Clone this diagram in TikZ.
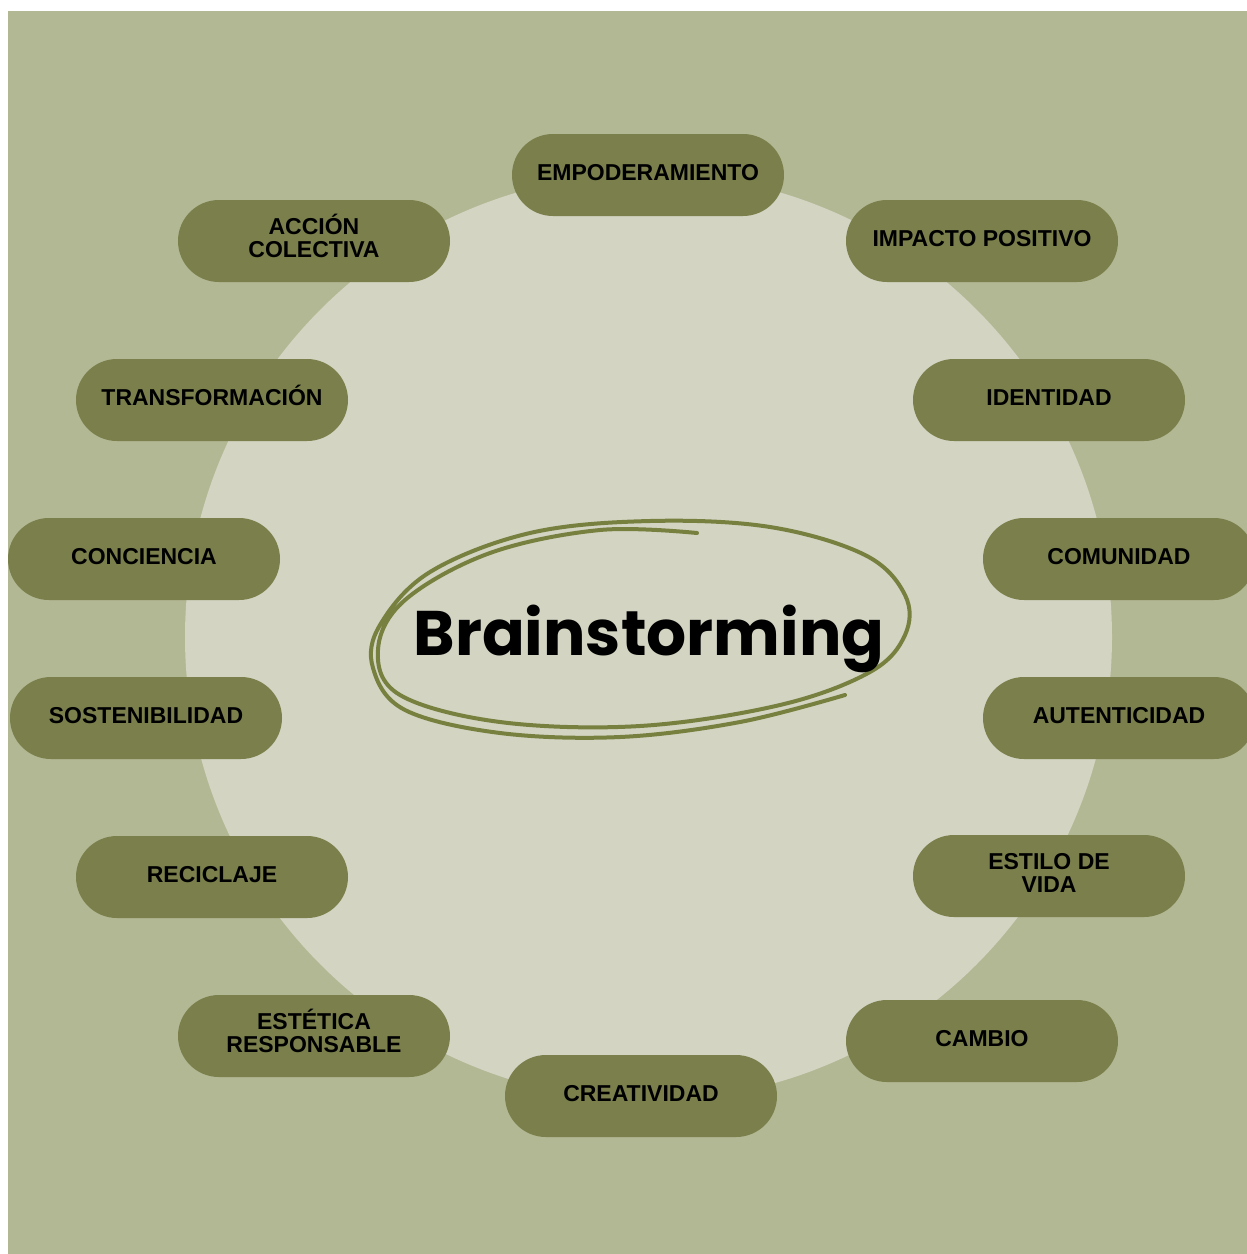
\documentclass[tikz,border=0pt]{standalone}
\usepackage{fontspec}
\setmainfont{Liberation Sans}
\newfontfamily\brainfont{Poppins}
\definecolor{bgg}{HTML}{B3B894}
\definecolor{circ}{HTML}{D3D4C2}
\definecolor{pill}{HTML}{7A7F4B}
\definecolor{scrib}{HTML}{77803F}
\begin{document}
\begin{tikzpicture}[x=1pt,y=-1pt,
  pillbox/.style={fill=pill, rounded corners=41pt, minimum width=272pt, minimum height=82pt,
    inner sep=0pt, align=center, text=black,
    font=\bfseries\fontsize{23}{23}\selectfont},
  pillone/.style={pillbox, text height=16pt, text depth=6pt},
  pilltwo/.style={pillbox, text height=39pt, text depth=7pt}]
\useasboundingbox (0,0) rectangle (1247,1254);
\fill[white] (0,0) rectangle (1247,1254);
\fill[bgg] (8,11) rectangle (1247,1254);
\fill[circ] (648.5,637) circle[radius=463.5];

\node[pillone] (emp) at (648,175) {EMPODERAMIENTO};
\node[pilltwo] (acc) at (314,241) {ACCIÓN\\COLECTIVA};
\node[pillone] (imp) at (982,241) {IMPACTO POSITIVO};
\node[pillone] (tra) at (212,400) {TRANSFORMACIÓN};
\node[pillone] (ide) at (1049,400) {IDENTIDAD};
\node[pillone] (con) at (144,559) {CONCIENCIA};
\node[pillone] (com) at (1119,559) {COMUNIDAD};
\node[pillone] (sos) at (146,718) {SOSTENIBILIDAD};
\node[pillone] (aut) at (1119,718) {AUTENTICIDAD};
\node[pillone] (rec) at (212,877) {RECICLAJE};
\node[pilltwo] (est) at (1049,876) {ESTILO DE\\VIDA};
\node[pilltwo] (ert) at (314,1036) {ESTÉTICA\\RESPONSABLE};
\node[pillone] (cam) at (982,1041) {CAMBIO};
\node[pillone] (cre) at (641,1096) {CREATIVIDAD};

\draw[scrib, line width=4pt, line cap=round, line join=round]
  plot[smooth, tension=0.6] coordinates {
  (697,533) (600,530) (490,553) (405,600) (378,650) (400,695) (500,722) (640,726) (780,705)
  (870,672) (905,635) (905,595) (865,555) (770,527) (650,521) (530,533) (430,572) (380,625)
  (373,668) (405,710) (500,733) (620,737) (740,722) (845,695)};

\node[anchor=base, inner sep=0pt] (brain) at (649,655)
  {\brainfont\bfseries\fontsize{63}{63}\selectfont Brainstorming};
\end{tikzpicture}
\end{document}
